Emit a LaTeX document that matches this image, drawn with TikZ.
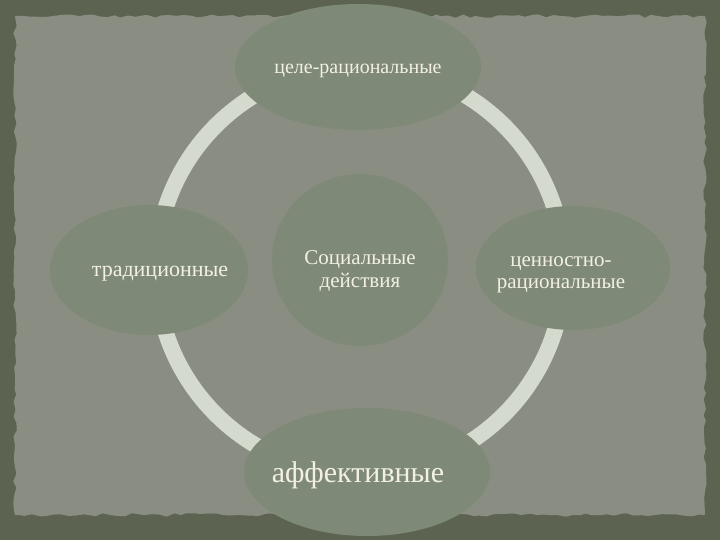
\documentclass[tikz,border=0pt]{standalone}
\usepackage{fontspec}
\setmainfont{Liberation Serif}
\usetikzlibrary{decorations.pathmorphing,shapes.geometric}
\definecolor{bgdark}{HTML}{5C6351}
\definecolor{paper}{HTML}{8A8E82}
\definecolor{blobfill}{HTML}{7F8977}
\definecolor{ringcol}{HTML}{D4DACE}
\definecolor{txt}{HTML}{F2F0E6}

\begin{document}
\begin{tikzpicture}[x=1pt,y=-1pt,
	blob/.style={ellipse, fill=blobfill, inner sep=0pt},
	lbl/.style={text=txt, inner sep=0pt, align=center},
	torn/.style={decorate, decoration={random steps, segment length=7pt, amplitude=1.8pt}}]
		\useasboundingbox (0,0) rectangle (720,540);
		\fill[bgdark] (0,0) rectangle (720,540);
		\pgfmathsetseed{11}
		\fill[paper, torn] (15,16) -- (705,16) -- (705,515) -- (15,515) -- cycle;
		% centre and ring
		\node[blob, minimum width=176pt, minimum height=172pt] (soc) at (360,260) {};
		\draw[ringcol, line width=16pt] (360,270) circle (204);
		% the four kinds
		\node[blob, minimum width=246pt, minimum height=126pt] (goal) at (358,67) {};
		\node[blob, minimum width=198pt, minimum height=130pt] (trad) at (149,270) {};
		\node[blob, minimum width=194pt, minimum height=124pt] (value) at (573,268) {};
		\node[blob, minimum width=246pt, minimum height=128pt] (affect) at (367,472) {};
		% texts
		\node[lbl, font=\fontsize{21}{23}\selectfont] (soctext) at ([yshift=-11pt]soc.center) {Социальные\\действия};
		\node[lbl, font=\fontsize{20}{22}\selectfont] (goaltext) at ([yshift=-4pt]goal.center) {целе-рациональные};
		\node[lbl, font=\fontsize{22}{24}\selectfont] (tradtext) at ([shift={(11pt,-4pt)}]trad.center) {традиционные};
		\node[lbl, font=\fontsize{21}{22}\selectfont] (valuetext) at ([shift={(-12pt,-7pt)}]value.center) {ценностно-\\рациональные};
		\node[lbl, font=\fontsize{30}{32}\selectfont] (affecttext) at ([shift={(-9pt,-3pt)}]affect.center) {аффективные};
	\end{tikzpicture}
\end{document}
